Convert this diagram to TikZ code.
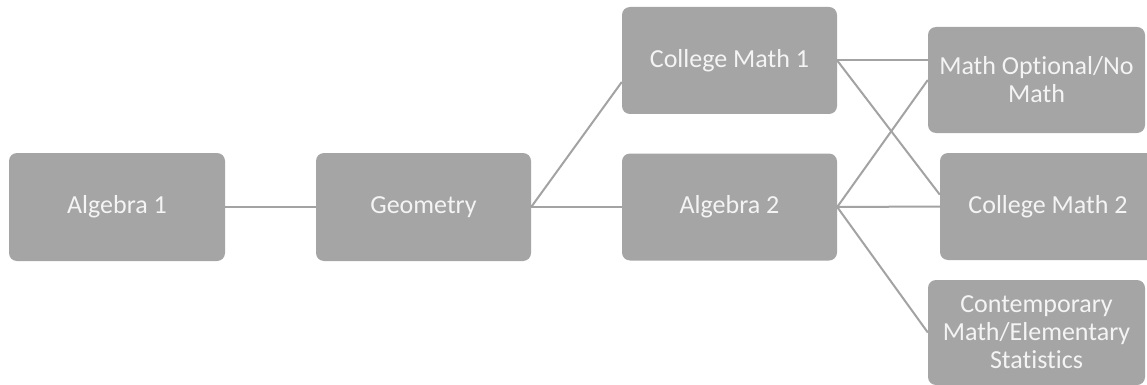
\documentclass[tikz,border=0pt]{standalone}
\usepackage{fontspec}
\setmainfont{Carlito}[Ligatures=NoCommon]
\usetikzlibrary{calc}
\definecolor{boxgray}{HTML}{A5A5A5}
\definecolor{linegray}{HTML}{A3A3A3}
\definecolor{txt}{HTML}{F4F4F4}
\begin{document}
\begin{tikzpicture}[x=1pt,y=-1pt,
  box/.style={fill=boxgray, draw=none, rounded corners=8pt, text=txt,
    font=\fontsize{26}{28}\selectfont, align=center, inner sep=0pt},
  conn/.style={draw=linegray, line width=2pt}]
\clip (0,0) rectangle (1147,385);
\useasboundingbox (0,0) rectangle (1147,385);
\fill[white] (0,0) rectangle (1147,385);
\node[box, minimum width=216pt, minimum height=108pt] (a1) at (117,207) {Algebra 1};
\node[box, minimum width=215pt, minimum height=108pt] (geo) at (423.5,207) {Geometry};
\node[box, minimum width=215pt, minimum height=107pt] (cm1) at (729.5,60.5) {College Math 1};
\node[box, minimum width=215pt, minimum height=107pt] (a2) at (729.5,207) {Algebra 2};
\node[box, minimum width=217pt, minimum height=106pt] (mo) at (1036.5,80) {Math Optional/No\\Math};
\node[box, minimum width=216pt, minimum height=107pt] (cm2) at (1048,206.5) {College Math 2};
\node[box, minimum width=217pt, minimum height=105pt] (cont) at (1036.5,332.5) {Contemporary\\Math/Elementary\\Statistics};
\draw[conn] (a1.east) -- (geo.west);
\draw[conn] (geo.east) -- ($(cm1.north west)!0.70!(cm1.south west)$);
\draw[conn] (geo.east) -- (a2.west);
\draw[conn] (cm1.east) -- (mo.west |- cm1.east);
\draw[conn] (cm1.east) -- ($(cm2.north west)!0.39!(cm2.south west)$);
\draw[conn] (a2.east) -- (mo.west);
\draw[conn] (a2.east) -- (cm2.west);
\draw[conn] (a2.east) -- (cont.west);
\end{tikzpicture}
\end{document}
